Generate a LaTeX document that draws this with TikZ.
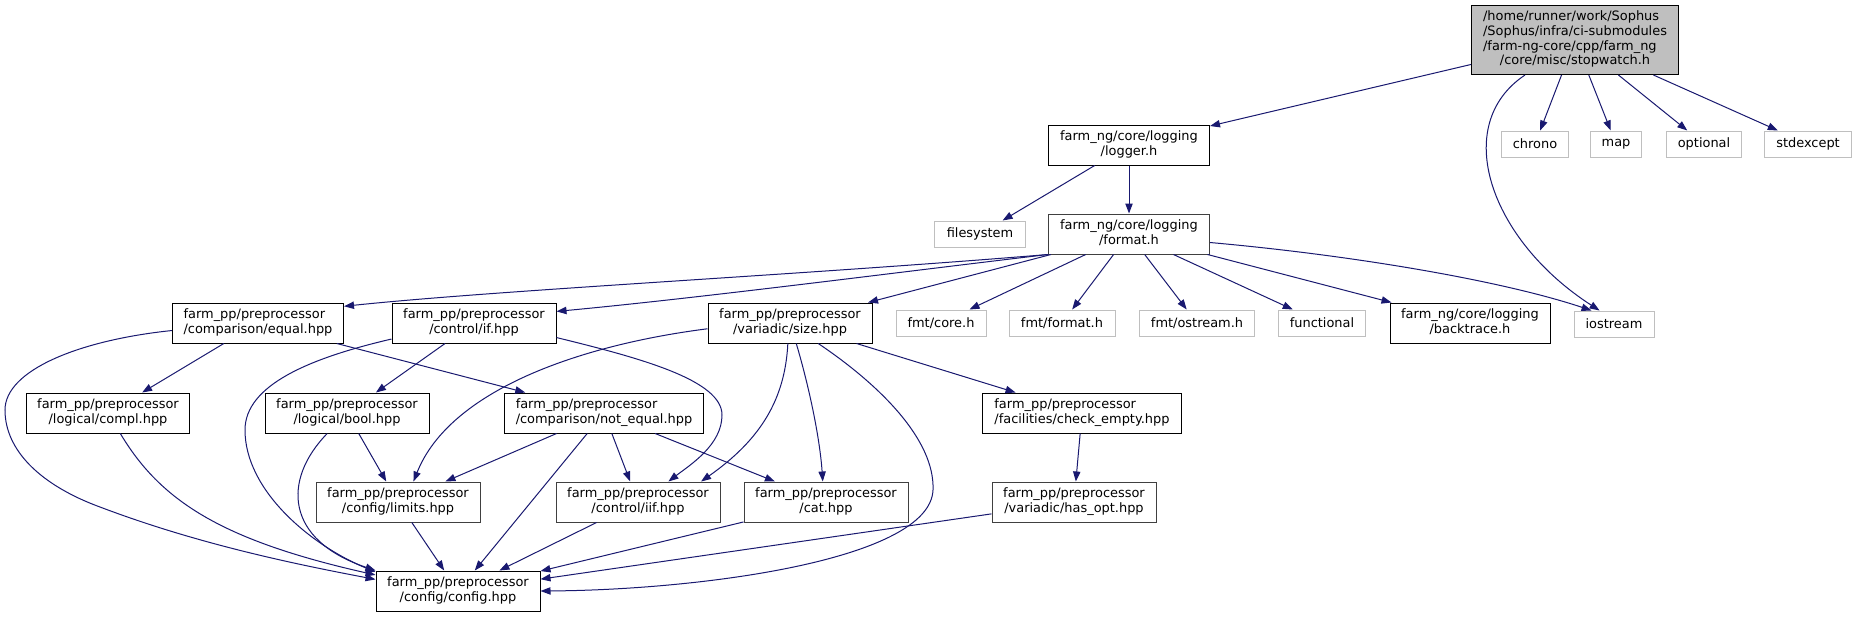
\documentclass[tikz,border=0pt]{standalone}
\usepackage{fontspec}
\setmainfont{DejaVu Sans}
\usetikzlibrary{arrows.meta}
\definecolor{midblue}{HTML}{191970}
\definecolor{ltgrey}{HTML}{BFBFBF}
\definecolor{dkgrey}{HTML}{404040}
% left lines, last line centred
\newcommand{\lbl}[2]{\begin{tabular}{@{}l@{}}#1\\\multicolumn{1}{@{}c@{}}{#2}\end{tabular}}

\begin{document}
\begin{tikzpicture}[x=0.75pt, y=-0.75pt, >={Triangle[length=7.5pt, width=5.5pt]},
  box/.style={draw=#1, fill=white, line width=0.75pt, inner sep=0pt,
              minimum height=30pt, font=\fontsize{9.7}{11}\selectfont},
  box/.default=black,
  sys/.style={box=ltgrey, minimum height=19.5pt},
  inc/.style={->, midblue, line width=0.75pt}]

% Background
\fill[white] (0,0) rectangle (1858,617);
\useasboundingbox (0,0) rectangle (1858,617);

% top rows
\node[box, fill=ltgrey, minimum width=155.25pt, minimum height=51.75pt] (root) at (1575,40)
  {\lbl{/home/runner/work/Sophus\\/Sophus/infra/ci-submodules\\/farm-ng-core/cpp/farm\_ng}{/core/misc/stopwatch.h}};
\node[box, minimum width=120.75pt] (logger) at (1129,145) {\lbl{farm\_ng/core/logging}{/logger.h}};
\node[sys, minimum width=50.25pt] (chrono) at (1535,144) {chrono};
\node[sys, minimum width=38.25pt] (map) at (1616,144) {map};
\node[sys, minimum width=56.25pt] (optional) at (1704,144) {optional};
\node[sys, minimum width=65.25pt] (stdexcept) at (1808,144) {stdexcept};
\node[sys, minimum width=68.25pt] (filesys) at (980,234) {filesystem};
\node[box=dkgrey, minimum width=120.75pt] (format) at (1129,234) {\lbl{farm\_ng/core/logging}{/format.h}};

% third row
\node[box, minimum width=128.25pt] (equal) at (258,323) {\lbl{farm\_pp/preprocessor}{/comparison/equal.hpp}};
\node[box, minimum width=123pt] (ifh) at (474,323) {\lbl{farm\_pp/preprocessor}{/control/if.hpp}};
\node[box, minimum width=123pt] (size) at (790,323) {\lbl{farm\_pp/preprocessor}{/variadic/size.hpp}};
\node[sys, minimum width=67.5pt] (fmtcore) at (941,323) {fmt/core.h};
\node[sys, minimum width=79.5pt] (fmtformat) at (1062,323) {fmt/format.h};
\node[sys, minimum width=86.25pt] (fmtostream) at (1197,323) {fmt/ostream.h};
\node[sys, minimum width=65.25pt] (functional) at (1322,323) {functional};
\node[box, minimum width=120pt] (backtrace) at (1470,323) {\lbl{farm\_ng/core/logging}{/backtrace.h}};
\node[sys, minimum width=60pt] (iostream) at (1614,324) {iostream};

% fourth row
\node[box, minimum width=122.25pt] (compl) at (108,413) {\lbl{farm\_pp/preprocessor}{/logical/compl.hpp}};
\node[box, minimum width=123pt] (bool) at (347,413) {\lbl{farm\_pp/preprocessor}{/logical/bool.hpp}};
\node[box, minimum width=149.25pt] (noteq) at (604,413) {\lbl{farm\_pp/preprocessor}{/comparison/not\_equal.hpp}};
\node[box, minimum width=149.25pt] (chkempty) at (1082,413) {\lbl{farm\_pp/preprocessor}{/facilities/check\_empty.hpp}};

% fifth row
\node[box=dkgrey, minimum width=123pt] (limits) at (398,502) {\lbl{farm\_pp/preprocessor}{/config/limits.hpp}};
\node[box=dkgrey, minimum width=123pt] (iif) at (638,502) {\lbl{farm\_pp/preprocessor}{/control/iif.hpp}};
\node[box=dkgrey, minimum width=123pt] (cat) at (826,502) {\lbl{farm\_pp/preprocessor}{/cat.hpp}};
\node[box=dkgrey, minimum width=123pt] (hasopt) at (1074,502) {\lbl{farm\_pp/preprocessor}{/variadic/has\_opt.hpp}};

\node[box, minimum width=123pt] (config) at (458,591) {\lbl{farm\_pp/preprocessor}{/config/config.hpp}};

% root includes
\draw[inc] (root) -- (logger);
\draw[inc] (root.215) .. controls (1450,125) and (1490,240) .. (iostream.137);
\draw[inc] (root) -- (chrono);
\draw[inc] (root) -- (map);
\draw[inc] (root) -- (optional);
\draw[inc] (root) -- (stdexcept);

\draw[inc] (logger) -- (filesys);
\draw[inc] (logger) -- (format);

% format.h
\draw[inc] (format.south west) .. controls (800,275) and (500,290) .. (equal.11);
\draw[inc] (format.south west) .. controls (900,272) and (700,298) .. (ifh.8);
\draw[inc] (format) -- (size);
\draw[inc] (format) -- (fmtcore);
\draw[inc] (format) -- (fmtformat);
\draw[inc] (format) -- (fmtostream);
\draw[inc] (format) -- (functional);
\draw[inc] (format) -- (backtrace);
\draw[inc] (format.354) .. controls (1350,255) and (1500,280) .. (iostream.149);

% equal.hpp, if.hpp
\draw[inc] (equal) -- (compl);
\draw[inc] (equal) -- (noteq);
\draw[inc] (equal.185) .. controls (80,340) and (5,370) .. (5,410)
  .. controls (5,450) and (40,485) .. (100,507) .. controls (200,545) and (300,565) .. (config.172);
\draw[inc] (ifh) -- (bool);
\draw[inc] (ifh.191) .. controls (310,358) and (245,385) .. (245,430)
  .. controls (245,490) and (310,545) .. (config.167);
\draw[inc] (ifh.350) .. controls (640,358) and (722,380) .. (722,415)
  .. controls (722,445) and (690,465) .. (iif.34);

% size.hpp
\draw[inc] (size.184) .. controls (580,345) and (450,390) .. (limits.53);
\draw[inc] (size.264) .. controls (785,400) and (760,440) .. (iif.18);
\draw[inc] (size.287) .. controls (810,390) and (820,440) .. (cat.99);
\draw[inc] (size.324) .. controls (880,385) and (935,440) .. (933,490)
  .. controls (930,560) and (700,590) .. (config.east);
\draw[inc] (size) -- (chkempty);

% lower rows
\draw[inc] (compl.301) .. controls (160,500) and (220,540) .. (config.169);
\draw[inc] (bool) -- (limits);
\draw[inc] (bool.226) .. controls (282,480) and (285,540) .. (config.north west);
\draw[inc] (noteq) -- (limits);
\draw[inc] (noteq) -- (config);
\draw[inc] (noteq) -- (iif);
\draw[inc] (noteq) -- (cat);
\draw[inc] (chkempty) -- (hasopt);
\draw[inc] (limits) -- (config);
\draw[inc] (iif) -- (config);
\draw[inc] (cat) -- (config);
\draw[inc] (hasopt) -- (config);

\end{tikzpicture}
\end{document}
